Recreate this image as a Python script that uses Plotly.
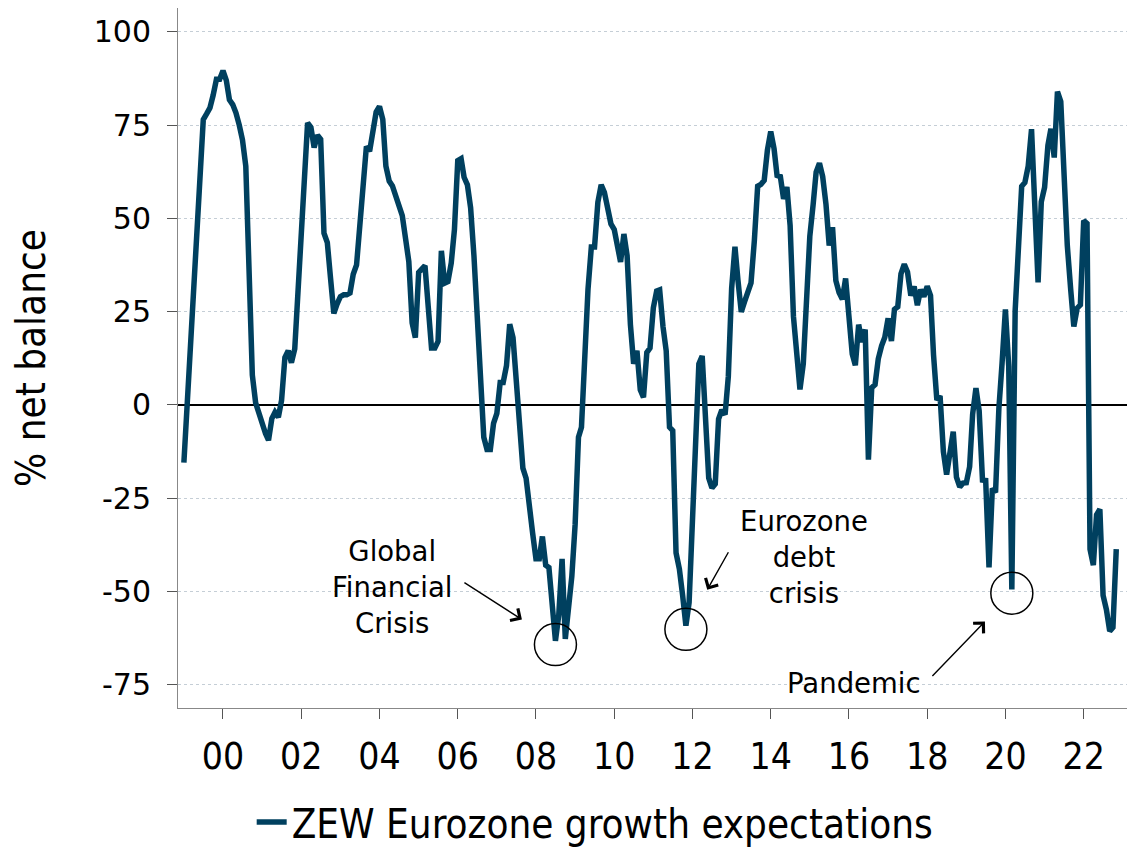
import pandas as pd
import plotly.graph_objects as go

# ZEW Eurozone economic sentiment (% net balance), monthly from Jan 1999
zew_1999 = [-15.5, 1.0, 17.0, 33.0, 49.5, 66.0, 76.5, 78.0, 79.6, 83.0, 87.3, 87.3]
zew_2000 = [89.6, 87.0, 81.8, 80.5, 78.3, 75.0, 71.0, 64.0, 30.0, 8.0, 0.5, -2.4]
zew_2001 = [-5.5, -7.7, -9.5, -3.7, -2.0, -3.3, 1.2, 12.7, 14.5, 11.3, 15.0, 31.7]
zew_2002 = [48.7, 65.8, 75.6, 74.4, 69.0, 72.3, 71.2, 46.0, 43.5, 34.0, 24.5, 27.0]
zew_2003 = [29.0, 29.5, 29.5, 30.0, 35.0, 37.5, 49.0, 59.0, 69.3, 68.0, 74.0, 78.5]
zew_2004 = [80.0, 76.5, 64.0, 60.0, 58.7, 56.0, 54.4, 50.7, 44.5, 38.4, 22.0, 18.0]
zew_2005 = [35.5, 36.5, 37.3, 26.0, 15.2, 15.2, 17.0, 41.3, 32.6, 33.0, 38.0, 47.0]
zew_2006 = [65.5, 66.0, 61.0, 59.0, 52.8, 40.0, 22.5, 3.2, -8.7, -12.0, -12.0, -5.0]
zew_2007 = [-2.3, 6.0, 6.0, 10.5, 21.6, 18.0, 7.8, -5.0, -17.0, -19.7, -26.0, -34.4]
zew_2008 = [-41.3, -41.3, -35.3, -43.0, -43.6, -52.0, -63.3, -56.4, -41.3, -62.8, -55.5, -46.0]
zew_2009 = [-32.0, -8.7, -6.0, 13.0, 31.0, 42.3, 42.3, 54.3, 59.0, 57.0, 52.5, 48.5]
zew_2010 = [47.0, 41.4, 38.3, 45.8, 40.0, 21.5, 11.0, 14.5, 4.0, 2.0, 14.0, 15.2]
zew_2011 = [26.0, 30.5, 30.8, 21.0, 14.5, -6.0, -6.9, -39.7, -44.0, -51.0, -59.2, -53.0]
zew_2012 = [-32.5, -11.0, 11.0, 13.1, -2.4, -19.6, -22.3, -21.2, -3.8, -1.4, -2.6, 7.6]
zew_2013 = [31.2, 42.4, 33.4, 24.9, 27.6, 30.6, 32.7, 44.0, 58.6, 59.1, 60.2, 68.3]
zew_2014 = [73.3, 68.7, 61.5, 61.2, 55.2, 58.4, 48.1, 23.7, 14.2, 4.1, 11.0, 31.8]
zew_2015 = [45.2, 53.7, 62.4, 64.8, 61.2, 53.7, 42.7, 47.6, 33.3, 30.1, 28.3, 33.9]
zew_2016 = [22.7, 13.6, 10.6, 21.5, 16.8, 20.2, -14.7, 4.6, 5.4, 12.3, 15.8, 18.1]
zew_2017 = [23.2, 17.1, 25.6, 26.3, 35.1, 37.7, 35.6, 29.3, 31.7, 26.7, 30.9, 29.0]
zew_2018 = [31.8, 29.3, 13.4, 1.3, 2.4, -12.6, -18.7, -13.7, -7.2, -19.4, -22.0, -21.0]
zew_2019 = [-20.9, -16.6, -2.5, 4.5, -1.6, -20.2, -20.3, -43.6, -22.4, -23.5, -1.0, 11.2]
zew_2020 = [25.6, 10.4, -49.5, 25.2, 46.0, 58.6, 59.6, 64.0, 73.9, 52.3, 32.8, 54.4]
zew_2021 = [58.3, 69.6, 74.0, 66.3, 84.0, 81.3, 61.2, 42.7, 31.1, 21.0, 25.9, 26.8]
zew_2022 = [49.4, 48.6, -38.7, -43.0, -29.5, -28.0, -51.1, -54.9, -60.7, -59.7, -38.7]

y_tick_values = [-75, -50, -25, 0, 25, 50, 75, 100]
y_tick_labels = ["-75", "-50", "-25", "0", "25", "50", "75", "100"]

# crisis lows that get a circle, and the captions
crisis_lows = ["2008-07-01", "2011-11-01", "2020-03-01"]
captions = ["Global<br>Financial<br>Crisis", "Eurozone<br>debt<br>crisis", "Pandemic"]
caption_x = ["2004-04-27", "2014-11-07", "2016-02-18"]
caption_y = [-48.8, -40.9, -74.6]
arrow_x = ["2007-08-23", "2012-05-18", "2019-06-24"]
arrow_y = [-57.6, -49.6, -58.1]
arrow_tail = [(-59, -38), (22, -39), (-54, 56)]

zew = (zew_1999 + zew_2000 + zew_2001 + zew_2002 + zew_2003 + zew_2004 + zew_2005
       + zew_2006 + zew_2007 + zew_2008 + zew_2009 + zew_2010 + zew_2011 + zew_2012
       + zew_2013 + zew_2014 + zew_2015 + zew_2016 + zew_2017 + zew_2018 + zew_2019
       + zew_2020 + zew_2021 + zew_2022)
months = pd.date_range("1999-01-01", periods=len(zew), freq="MS")
series = pd.Series(zew, index=months)

LINE = "#00405f"
COND = "DejaVu Sans Condensed, Liberation Sans Narrow, DejaVu Sans"

fig = go.Figure()
fig.add_trace(
    go.Scatter(
        x=series.index,
        y=series.values,
        mode="lines",
        name="ZEW Eurozone growth expectations",
        line={"color": LINE, "width": 5.5},
    )
)

for when in crisis_lows:
    fig.add_shape(
        type="circle",
        xref="x",
        yref="y",
        xsizemode="pixel",
        ysizemode="pixel",
        xanchor=when,
        yanchor=series[when] - 1,
        x0=-21,
        x1=21,
        y0=-21,
        y1=21,
        line={"color": "black", "width": 1.5},
    )

for text, cx, cy in zip(captions, caption_x, caption_y):
    fig.add_annotation(
        x=cx, y=cy, text=text, showarrow=False,
        font={"family": "DejaVu Sans", "size": 27.5, "color": "black"},
        align="center",
    )

for hx, hy, (ax, ay) in zip(arrow_x, arrow_y, arrow_tail):
    fig.add_annotation(
        x=hx, y=hy, ax=ax, ay=ay, text="", showarrow=True,
        arrowhead=4, arrowsize=2, arrowwidth=1.4, arrowcolor="black",
    )

# the page body has an 8px margin, so the figure margins are trimmed by 8px
fig.update_layout(
    width=1135,
    height=847,
    margin={"l": 170, "r": 8, "t": 0, "b": 143},
    paper_bgcolor="white",
    plot_bgcolor="white",
    showlegend=True,
    legend={
        "orientation": "h",
        "x": 0.077,
        "xanchor": "left",
        "y": -0.163,
        "yanchor": "middle",
        "font": {"family": COND, "size": 40, "color": "black"},
    },
)
fig.update_xaxes(
    type="date",
    range=["1998-11-07", "2023-04-25"],
    tick0="2000-01-01",
    dtick="M24",
    tickformat="%y",
    ticks="outside",
    ticklen=10,
    tickcolor="#555555",
    ticklabelstandoff=6,
    tickfont={"family": COND, "size": 37, "color": "black"},
    showgrid=False,
    showline=True,
    linecolor="#888888",
    linewidth=1,
    automargin=False,
)
fig.update_yaxes(
    range=[-81.3, 106.4],
    tickvals=y_tick_values,
    ticktext=y_tick_labels,
    ticks="outside",
    ticklen=10,
    tickcolor="#555555",
    ticklabelstandoff=10,
    tickfont={"family": "DejaVu Sans", "size": 30, "color": "black"},
    showgrid=True,
    gridcolor="#c5ced6",
    griddash="3px,3px",
    gridwidth=1,
    zeroline=True,
    zerolinecolor="black",
    zerolinewidth=1.5,
    showline=True,
    linecolor="#888888",
    linewidth=1,
    automargin=False,
    title={"text": "% net balance", "font": {"family": COND, "size": 40, "color": "black"}, "standoff": 36},
)

fig.write_html("out.html")
